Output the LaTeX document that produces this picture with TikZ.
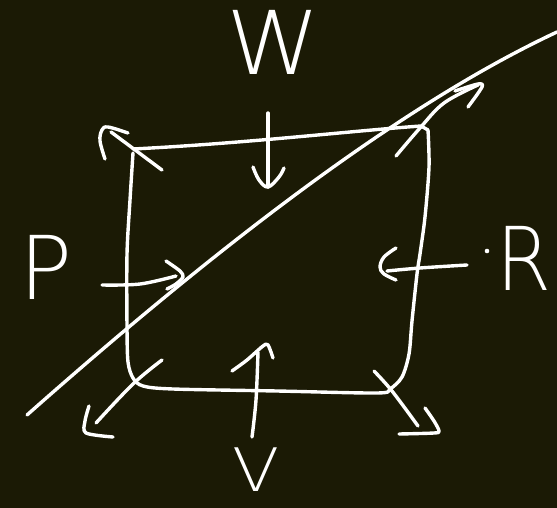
\documentclass[tikz,border=0pt]{standalone}
\usepackage{fontspec}
\usepackage{graphicx}
\IfFontExistsTF{DejaVuSans-ExtraLight.ttf}{\newfontfamily\hand{DejaVuSans-ExtraLight.ttf}}{%
  \IfFontExistsTF{DejaVu Sans ExtraLight}{\newfontfamily\hand{DejaVu Sans ExtraLight}}{%
    \newfontfamily\hand{lmmonolt10-regular.otf}}}
\definecolor{board}{RGB}{27,26,5}
\begin{document}
\begin{tikzpicture}[x=1pt,y=-1pt,
  chalk/.style={draw=white, line width=3.4pt, line cap=round, line join=round},
  lbl/.style={text=white, inner sep=0pt, font=\hand\fontsize{88}{88}\selectfont}]
\fill[board] (0,0) rectangle (557,508);
\useasboundingbox (0,0) rectangle (557,508);

% box
\draw[chalk] plot[smooth, tension=0.5] coordinates {(133,153) (130,200) (127,254) (127,327) (128,362) (133,378) (143,386) (173,389) (277,391) (377,393) (390,389) (402,377) (409,354) (412,321) (417,274) (420,254) (425,217) (429,167) (428,130)};
\draw[chalk] (133,149) .. controls (250,143) and (350,131) .. (421,126) -- (428,130);

% long diagonal line
\coordinate (d0) at (27,415);
\coordinate (d1) at (557,32);
\draw[chalk] (d0) .. controls (227,238) and (407,102) .. (d1);

% NW arrow
\coordinate (nw0) at (162,170);
\coordinate (nw1) at (111,132);
\draw[chalk] (nw0) -- (nw1);
\draw[chalk] plot[smooth, tension=0.6] coordinates {(105,159) (100,141) (102,130) (108,127) (128,133)};

% W arrow (down)
\coordinate (w0) at (268,113);
\coordinate (w1) at (268,187);
\draw[chalk] (w0) -- (w1);
\draw[chalk] plot[smooth, tension=0.6] coordinates {(253,167) (259,180) (268,187) (279,177) (284,168)};

% NE arrow
\coordinate (ne0) at (396,156);
\coordinate (ne1) at (478,85);
\draw[chalk] plot[smooth, tension=0.6] coordinates {(ne0) (420,128) (444,103) (ne1)};
\draw[chalk] plot[smooth, tension=0.5] coordinates {(455,91) (478,84) (482,87) (468,107)};

% P arrow (right)
\coordinate (p0) at (102,285);
\coordinate (p1) at (176,276);
\draw[chalk] plot[smooth, tension=0.6] coordinates {(p0) (140,284) (p1)};
\draw[chalk] plot[smooth, tension=0.5] coordinates {(166,261) (180,271) (183,277) (176,284) (167,289)};

% R arrow (left)
\coordinate (r0) at (467,265);
\coordinate (r1) at (387,271);
\draw[chalk] plot[smooth, tension=0.6] coordinates {(r0) (420,268) (r1)};
\draw[chalk] plot[smooth, tension=0.6] coordinates {(396,248) (384,257) (380,267) (384,274) (396,280)};
\fill[white] (487,251) circle (2.3pt);

% SW arrow
\coordinate (sw0) at (162,360);
\coordinate (sw1) at (96,423);
\draw[chalk] plot[smooth, tension=0.6] coordinates {(sw0) (133,384) (sw1)};
\draw[chalk] plot[smooth, tension=0.5] coordinates {(89,406) (85,421) (86,433) (113,437)};

% V arrow (up)
\coordinate (v0) at (252,437);
\coordinate (v1) at (258,352);
\draw[chalk] plot[smooth, tension=0.6] coordinates {(v0) (256,400) (v1)};
\draw[chalk] plot[smooth, tension=0.5] coordinates {(232,371) (247,360) (263,346) (268,345) (273,358)};

% SE arrow
\coordinate (se0) at (374,371);
\coordinate (se1) at (418,426);
\draw[chalk] plot[smooth, tension=0.6] coordinates {(se0) (392,391) (se1)};
\draw[chalk] plot[smooth, tension=0.5] coordinates {(425,408) (434,421) (439,431) (434,433) (399,434)};

% labels
\node[lbl] (labW) at (273,42) {\scalebox{1.08}[1]{W}};
\node[lbl] (labP) at (46,267) {P};
\node[lbl] (labR) at (524,258) {\scalebox{0.9}[1]{R}};
\node[lbl, font=\hand\fontsize{60}{60}\selectfont] (labV) at (256,470) {\scalebox{1.15}[1]{V}};
\end{tikzpicture}
\end{document}
